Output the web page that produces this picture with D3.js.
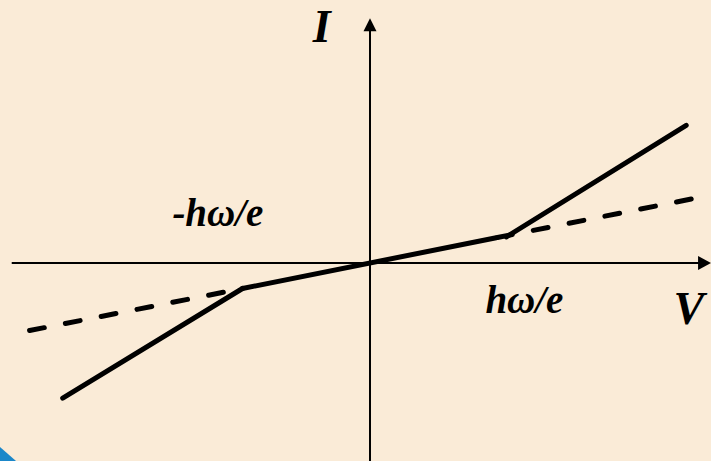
<!DOCTYPE html>
<html>
<head>
<meta charset="utf-8">
<script src="https://cdn.jsdelivr.net/npm/d3@7/dist/d3.min.js"></script>
<style>
  html, body { margin: 0; padding: 0; background: #FAEBD7; }
  svg { display: block; }
  text { font-family: "Liberation Serif", "Times New Roman", serif; font-weight: bold; font-style: italic; fill: #000; }
</style>
</head>
<body>
<script>
// Photon-assisted tunnelling I–V sketch, V in units of ħω/e.
const ohmicSegment   = [[-1, -0.2], [0.99, 0.198]];
const leftBranch     = [[-2.41, -1.06], [-1, -0.2]];
const rightBranch    = [[1.07, 0.205], [2.48, 1.08]];
const leftExtension  = [[-2.67, -0.53], [-1, -0.2]];
const rightExtension = [[1.0, 0.2], [2.56, 0.51]];
const vAxisExtent = [-2.81, 2.675];
const iAxisExtent = [-1.6, 1.92];
const labels = [
  { text: "I", v: -0.45, i: 1.73, size: 46 },
  { text: "-hω/e", v: -1.55, i: 0.29, size: 39 },
  { text: "hω/e", v: 0.905, i: -0.39, size: 39 },
  { text: "V", v: 2.38, i: -0.48, size: 46 }
];

const W = 711, H = 461;
const unit = 127.5;
const x0 = 370, y0 = 263;

const x = d3.scaleLinear().domain([-x0 / unit, (W - x0) / unit]).range([0, W]);
const y = d3.scaleLinear().domain([y0 / unit, -(H - y0) / unit]).range([0, H]);

const svg = d3.select("body").append("svg").attr("width", W).attr("height", H);

svg.append("rect").attr("width", W).attr("height", H).attr("fill", "#FAEBD7");

// corner accent
svg.append("path")
  .attr("d", `M0,${H - 14} L16,${H} L0,${H} Z`)
  .attr("fill", "#1B87C9");

// axes with arrowheads
const axisG = svg.append("g").attr("stroke", "#000").attr("stroke-width", 2);
axisG.append("line")
  .attr("x1", x(vAxisExtent[0])).attr("y1", y(0))
  .attr("x2", x(vAxisExtent[1]) - 10).attr("y2", y(0));
axisG.append("line")
  .attr("x1", x(0)).attr("y1", y(iAxisExtent[0]))
  .attr("x2", x(0)).attr("y2", y(iAxisExtent[1]) + 10);

const tipX = x(vAxisExtent[1]), tipY = y(iAxisExtent[1]);
svg.append("path")
  .attr("d", `M${tipX},${y(0)} L${tipX - 13},${y(0) - 7} L${tipX - 13},${y(0) + 7} Z`)
  .attr("fill", "#000");
svg.append("path")
  .attr("d", `M${x(0)},${tipY} L${x(0) - 6.5},${tipY + 13} L${x(0) + 6.5},${tipY + 13} Z`)
  .attr("fill", "#000");

const line = d3.line().x(d => x(d[0])).y(d => y(d[1]));

// dashed ohmic extrapolations
[leftExtension, rightExtension].forEach(seg => {
  svg.append("path")
    .attr("d", line(seg))
    .attr("fill", "none")
    .attr("stroke", "#000")
    .attr("stroke-width", 5)
    .attr("stroke-linecap", "round")
    .attr("stroke-dasharray", "15,21.5");
});

// solid characteristic
[leftBranch, ohmicSegment, rightBranch].forEach(seg => {
  svg.append("path")
    .attr("d", line(seg))
    .attr("fill", "none")
    .attr("stroke", "#000")
    .attr("stroke-width", 5)
    .attr("stroke-linecap", "round")
    .attr("stroke-linejoin", "round");
});

svg.append("g").selectAll("text")
  .data(labels)
  .join("text")
  .attr("x", d => x(d.v))
  .attr("y", d => y(d.i))
  .attr("font-size", d => d.size)
  .text(d => d.text);
</script>
</body>
</html>
